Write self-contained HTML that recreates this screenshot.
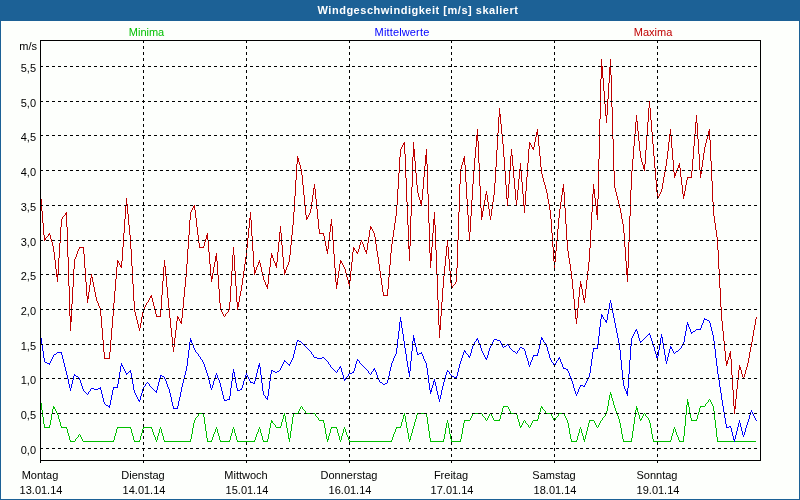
<!DOCTYPE html>
<html><head><meta charset="utf-8"><title>Windgeschwindigkeit</title>
<style>
html,body{margin:0;padding:0;}
body{width:800px;height:500px;overflow:hidden;background:#fdfffc;font-family:"Liberation Sans",sans-serif;font-size:11px;color:#000;}
#wrap{position:relative;width:800px;height:500px;background:#fdfffc;overflow:hidden;}
#hdr{position:absolute;left:0;top:0;width:800px;height:21px;background:#1c6196;}
.bl{position:absolute;background:#1c6196;}
.t{position:absolute;white-space:nowrap;line-height:13px;height:13px;}
.c{transform:translateX(-50%);}
.r{text-align:right;}
#title{color:#fff;font-weight:bold;left:418px;top:4px;letter-spacing:0.52px;}
</style></head><body><div id="wrap">
<div id="hdr"></div>
<div class="bl" style="left:0;top:0;width:1px;height:500px"></div>
<div class="bl" style="left:799px;top:0;width:1px;height:500px"></div>
<div class="bl" style="left:0;top:499px;width:800px;height:1px"></div>

<svg width="800" height="500" viewBox="0 0 800 500" style="position:absolute;left:0;top:0">
<path d="M40 399h1v4h-1zM41 403h1v7h-1zM42 410h1v7h-1zM43 417h1v7h-1zM44 424h1v4h-1zM45 427h1v1h-1zM46 427h1v1h-1zM47 427h1v1h-1zM48 427h1v1h-1zM49 425h1v3h-1zM50 420h1v5h-1zM51 414h1v6h-1zM52 409h1v5h-1zM53 406h1v3h-1zM54 407h1v2h-1zM55 409h1v2h-1zM56 411h1v2h-1zM57 413h1v2h-1zM58 415h1v4h-1zM59 419h1v3h-1zM60 422h1v4h-1zM61 426h1v2h-1zM62 427h1v1h-1zM63 427h1v1h-1zM64 427h1v1h-1zM65 427h1v1h-1zM66 427h1v2h-1zM67 429h1v4h-1zM68 433h1v3h-1zM69 436h1v4h-1zM70 440h1v2h-1zM71 441h1v1h-1zM72 441h1v1h-1zM73 441h1v1h-1zM74 441h1v1h-1zM75 439h1v2h-1zM76 438h1v1h-1zM77 437h1v1h-1zM78 435h1v2h-1zM79 434h1v1h-1zM80 435h1v2h-1zM81 437h1v2h-1zM82 439h1v2h-1zM83 441h1v1h-1zM84 441h1v1h-1zM85 441h1v1h-1zM86 441h1v1h-1zM87 441h1v1h-1zM88 441h1v1h-1zM89 441h1v1h-1zM90 441h1v1h-1zM91 441h1v1h-1zM92 441h1v1h-1zM93 441h1v1h-1zM94 441h1v1h-1zM95 441h1v1h-1zM96 441h1v1h-1zM97 441h1v1h-1zM98 441h1v1h-1zM99 441h1v1h-1zM100 441h1v1h-1zM101 441h1v1h-1zM102 441h1v1h-1zM103 441h1v1h-1zM104 441h1v1h-1zM105 441h1v1h-1zM106 441h1v1h-1zM107 441h1v1h-1zM108 441h1v1h-1zM109 441h1v1h-1zM110 441h1v1h-1zM111 441h1v1h-1zM112 441h1v1h-1zM113 440h1v2h-1zM114 436h1v4h-1zM115 433h1v3h-1zM116 429h1v4h-1zM117 427h1v2h-1zM118 427h1v1h-1zM119 427h1v1h-1zM120 427h1v1h-1zM121 427h1v1h-1zM122 427h1v1h-1zM123 427h1v1h-1zM124 427h1v1h-1zM125 427h1v1h-1zM126 427h1v1h-1zM127 427h1v1h-1zM128 427h1v1h-1zM129 427h1v1h-1zM130 427h1v2h-1zM131 429h1v4h-1zM132 433h1v3h-1zM133 436h1v4h-1zM134 440h1v2h-1zM135 441h1v1h-1zM136 441h1v1h-1zM137 441h1v1h-1zM138 441h1v1h-1zM139 440h1v2h-1zM140 436h1v4h-1zM141 433h1v3h-1zM142 429h1v4h-1zM143 427h1v2h-1zM144 427h1v1h-1zM145 427h1v1h-1zM146 427h1v1h-1zM147 427h1v1h-1zM148 427h1v1h-1zM149 427h1v1h-1zM150 427h1v1h-1zM151 427h1v2h-1zM152 429h1v3h-1zM153 432h1v3h-1zM154 435h1v2h-1zM155 437h1v3h-1zM156 440h1v2h-1zM157 436h1v4h-1zM158 433h1v3h-1zM159 429h1v4h-1zM160 427h1v2h-1zM161 429h1v4h-1zM162 433h1v3h-1zM163 436h1v4h-1zM164 440h1v2h-1zM165 441h1v1h-1zM166 441h1v1h-1zM167 441h1v1h-1zM168 441h1v1h-1zM169 441h1v1h-1zM170 441h1v1h-1zM171 441h1v1h-1zM172 441h1v1h-1zM173 441h1v1h-1zM174 441h1v1h-1zM175 441h1v1h-1zM176 441h1v1h-1zM177 441h1v1h-1zM178 441h1v1h-1zM179 441h1v1h-1zM180 441h1v1h-1zM181 441h1v1h-1zM182 441h1v1h-1zM183 441h1v1h-1zM184 441h1v1h-1zM185 441h1v1h-1zM186 441h1v1h-1zM187 441h1v1h-1zM188 441h1v1h-1zM189 441h1v1h-1zM190 439h1v3h-1zM191 434h1v5h-1zM192 428h1v6h-1zM193 423h1v5h-1zM194 420h1v3h-1zM195 418h1v2h-1zM196 417h1v1h-1zM197 416h1v1h-1zM198 414h1v2h-1zM199 413h1v1h-1zM200 413h1v1h-1zM201 413h1v1h-1zM202 413h1v1h-1zM203 413h1v4h-1zM204 417h1v7h-1zM205 424h1v7h-1zM206 431h1v7h-1zM207 438h1v4h-1zM208 441h1v1h-1zM209 441h1v1h-1zM210 441h1v1h-1zM211 440h1v2h-1zM212 437h1v3h-1zM213 434h1v3h-1zM214 432h1v2h-1zM215 429h1v3h-1zM216 427h1v2h-1zM217 429h1v4h-1zM218 433h1v3h-1zM219 436h1v4h-1zM220 440h1v2h-1zM221 441h1v1h-1zM222 441h1v1h-1zM223 441h1v1h-1zM224 441h1v1h-1zM225 441h1v1h-1zM226 441h1v1h-1zM227 441h1v1h-1zM228 441h1v1h-1zM229 440h1v2h-1zM230 436h1v4h-1zM231 433h1v3h-1zM232 429h1v4h-1zM233 427h1v2h-1zM234 429h1v4h-1zM235 433h1v3h-1zM236 436h1v4h-1zM237 440h1v2h-1zM238 441h1v1h-1zM239 441h1v1h-1zM240 441h1v1h-1zM241 441h1v1h-1zM242 441h1v1h-1zM243 441h1v1h-1zM244 441h1v1h-1zM245 441h1v1h-1zM246 441h1v1h-1zM247 441h1v1h-1zM248 441h1v1h-1zM249 441h1v1h-1zM250 441h1v1h-1zM251 441h1v1h-1zM252 441h1v1h-1zM253 441h1v1h-1zM254 440h1v2h-1zM255 437h1v3h-1zM256 434h1v3h-1zM257 432h1v2h-1zM258 429h1v3h-1zM259 427h1v2h-1zM260 429h1v4h-1zM261 433h1v3h-1zM262 436h1v4h-1zM263 440h1v2h-1zM264 441h1v1h-1zM265 441h1v1h-1zM266 441h1v1h-1zM267 439h1v3h-1zM268 434h1v5h-1zM269 428h1v6h-1zM270 423h1v5h-1zM271 420h1v3h-1zM272 421h1v2h-1zM273 423h1v1h-1zM274 424h1v1h-1zM275 425h1v2h-1zM276 427h1v1h-1zM277 427h1v1h-1zM278 427h1v1h-1zM279 427h1v1h-1zM280 426h1v2h-1zM281 422h1v4h-1zM282 419h1v3h-1zM283 415h1v4h-1zM284 413h1v3h-1zM285 416h1v6h-1zM286 422h1v6h-1zM287 428h1v5h-1zM288 433h1v6h-1zM289 438h1v4h-1zM290 431h1v7h-1zM291 424h1v7h-1zM292 417h1v7h-1zM293 413h1v4h-1zM294 413h1v1h-1zM295 413h1v1h-1zM296 413h1v1h-1zM297 413h1v1h-1zM298 411h1v2h-1zM299 409h1v2h-1zM300 407h1v2h-1zM301 406h1v1h-1zM302 407h1v2h-1zM303 409h1v1h-1zM304 410h1v1h-1zM305 411h1v2h-1zM306 413h1v1h-1zM307 413h1v1h-1zM308 413h1v1h-1zM309 413h1v1h-1zM310 413h1v1h-1zM311 413h1v1h-1zM312 413h1v1h-1zM313 413h1v1h-1zM314 413h1v1h-1zM315 414h1v2h-1zM316 416h1v1h-1zM317 417h1v1h-1zM318 418h1v2h-1zM319 420h1v1h-1zM320 420h1v1h-1zM321 420h1v1h-1zM322 420h1v1h-1zM323 420h1v3h-1zM324 423h1v5h-1zM325 428h1v6h-1zM326 434h1v5h-1zM327 439h1v3h-1zM328 436h1v4h-1zM329 433h1v3h-1zM330 429h1v4h-1zM331 427h1v2h-1zM332 427h1v1h-1zM333 427h1v1h-1zM334 427h1v1h-1zM335 427h1v1h-1zM336 427h1v2h-1zM337 429h1v4h-1zM338 433h1v3h-1zM339 436h1v4h-1zM340 440h1v2h-1zM341 436h1v4h-1zM342 433h1v3h-1zM343 429h1v4h-1zM344 427h1v2h-1zM345 429h1v3h-1zM346 432h1v3h-1zM347 435h1v2h-1zM348 437h1v3h-1zM349 440h1v2h-1zM350 441h1v1h-1zM351 441h1v1h-1zM352 441h1v1h-1zM353 441h1v1h-1zM354 441h1v1h-1zM355 441h1v1h-1zM356 441h1v1h-1zM357 441h1v1h-1zM358 441h1v1h-1zM359 441h1v1h-1zM360 441h1v1h-1zM361 441h1v1h-1zM362 441h1v1h-1zM363 441h1v1h-1zM364 441h1v1h-1zM365 441h1v1h-1zM366 441h1v1h-1zM367 441h1v1h-1zM368 441h1v1h-1zM369 441h1v1h-1zM370 441h1v1h-1zM371 441h1v1h-1zM372 441h1v1h-1zM373 441h1v1h-1zM374 441h1v1h-1zM375 441h1v1h-1zM376 441h1v1h-1zM377 441h1v1h-1zM378 441h1v1h-1zM379 441h1v1h-1zM380 441h1v1h-1zM381 441h1v1h-1zM382 441h1v1h-1zM383 441h1v1h-1zM384 441h1v1h-1zM385 441h1v1h-1zM386 441h1v1h-1zM387 441h1v1h-1zM388 441h1v1h-1zM389 441h1v1h-1zM390 441h1v1h-1zM391 440h1v2h-1zM392 437h1v3h-1zM393 434h1v3h-1zM394 432h1v2h-1zM395 429h1v3h-1zM396 427h1v2h-1zM397 427h1v1h-1zM398 427h1v1h-1zM399 427h1v1h-1zM400 426h1v2h-1zM401 422h1v4h-1zM402 419h1v3h-1zM403 415h1v4h-1zM404 413h1v3h-1zM405 416h1v6h-1zM406 422h1v6h-1zM407 428h1v5h-1zM408 433h1v6h-1zM409 439h1v3h-1zM410 436h1v4h-1zM411 433h1v3h-1zM412 429h1v4h-1zM413 426h1v3h-1zM414 422h1v4h-1zM415 419h1v3h-1zM416 415h1v4h-1zM417 413h1v2h-1zM418 413h1v1h-1zM419 413h1v1h-1zM420 413h1v1h-1zM421 413h1v1h-1zM422 413h1v1h-1zM423 413h1v1h-1zM424 413h1v1h-1zM425 413h1v1h-1zM426 413h1v4h-1zM427 417h1v7h-1zM428 424h1v7h-1zM429 431h1v7h-1zM430 438h1v4h-1zM431 441h1v1h-1zM432 441h1v1h-1zM433 441h1v1h-1zM434 441h1v1h-1zM435 441h1v1h-1zM436 441h1v1h-1zM437 441h1v1h-1zM438 441h1v1h-1zM439 441h1v1h-1zM440 441h1v1h-1zM441 441h1v1h-1zM442 441h1v1h-1zM443 439h1v3h-1zM444 434h1v5h-1zM445 428h1v6h-1zM446 423h1v5h-1zM447 420h1v3h-1zM448 423h1v5h-1zM449 428h1v6h-1zM450 434h1v5h-1zM451 439h1v3h-1zM452 441h1v1h-1zM453 441h1v1h-1zM454 441h1v1h-1zM455 441h1v1h-1zM456 441h1v1h-1zM457 441h1v1h-1zM458 441h1v1h-1zM459 441h1v1h-1zM460 439h1v3h-1zM461 434h1v5h-1zM462 428h1v6h-1zM463 423h1v5h-1zM464 420h1v3h-1zM465 420h1v1h-1zM466 420h1v1h-1zM467 420h1v1h-1zM468 420h1v1h-1zM469 420h1v1h-1zM470 418h1v2h-1zM471 416h1v2h-1zM472 414h1v2h-1zM473 413h1v1h-1zM474 413h1v1h-1zM475 413h1v1h-1zM476 413h1v1h-1zM477 413h1v1h-1zM478 413h1v1h-1zM479 413h1v1h-1zM480 413h1v1h-1zM481 413h1v1h-1zM482 414h1v2h-1zM483 416h1v1h-1zM484 417h1v1h-1zM485 418h1v2h-1zM486 420h1v1h-1zM487 418h1v2h-1zM488 416h1v2h-1zM489 414h1v2h-1zM490 413h1v1h-1zM491 414h1v2h-1zM492 416h1v2h-1zM493 418h1v2h-1zM494 420h1v1h-1zM495 420h1v1h-1zM496 420h1v1h-1zM497 420h1v1h-1zM498 420h1v1h-1zM499 419h1v2h-1zM500 415h1v4h-1zM501 412h1v3h-1zM502 408h1v4h-1zM503 406h1v2h-1zM504 406h1v1h-1zM505 406h1v1h-1zM506 406h1v1h-1zM507 406h1v1h-1zM508 407h1v2h-1zM509 409h1v2h-1zM510 411h1v2h-1zM511 413h1v1h-1zM512 413h1v1h-1zM513 413h1v1h-1zM514 413h1v1h-1zM515 413h1v1h-1zM516 413h1v2h-1zM517 415h1v4h-1zM518 419h1v3h-1zM519 422h1v4h-1zM520 426h1v2h-1zM521 425h1v2h-1zM522 423h1v2h-1zM523 421h1v2h-1zM524 420h1v1h-1zM525 421h1v2h-1zM526 423h1v1h-1zM527 424h1v1h-1zM528 425h1v2h-1zM529 427h1v1h-1zM530 425h1v2h-1zM531 423h1v2h-1zM532 421h1v2h-1zM533 420h1v1h-1zM534 420h1v1h-1zM535 420h1v1h-1zM536 420h1v1h-1zM537 419h1v2h-1zM538 415h1v4h-1zM539 412h1v3h-1zM540 408h1v4h-1zM541 406h1v2h-1zM542 407h1v2h-1zM543 409h1v1h-1zM544 410h1v1h-1zM545 411h1v2h-1zM546 413h1v1h-1zM547 413h1v1h-1zM548 413h1v1h-1zM549 413h1v1h-1zM550 413h1v1h-1zM551 414h1v2h-1zM552 416h1v2h-1zM553 418h1v2h-1zM554 420h1v1h-1zM555 418h1v2h-1zM556 417h1v1h-1zM557 416h1v1h-1zM558 414h1v2h-1zM559 413h1v1h-1zM560 413h1v1h-1zM561 413h1v1h-1zM562 413h1v1h-1zM563 413h1v1h-1zM564 414h1v2h-1zM565 416h1v2h-1zM566 418h1v2h-1zM567 420h1v3h-1zM568 423h1v5h-1zM569 428h1v6h-1zM570 434h1v5h-1zM571 439h1v3h-1zM572 441h1v1h-1zM573 441h1v1h-1zM574 441h1v1h-1zM575 441h1v1h-1zM576 440h1v2h-1zM577 436h1v4h-1zM578 433h1v3h-1zM579 429h1v4h-1zM580 427h1v2h-1zM581 429h1v4h-1zM582 433h1v3h-1zM583 436h1v4h-1zM584 439h1v3h-1zM585 435h1v4h-1zM586 431h1v4h-1zM587 427h1v4h-1zM588 423h1v4h-1zM589 420h1v3h-1zM590 420h1v1h-1zM591 420h1v1h-1zM592 420h1v1h-1zM593 420h1v1h-1zM594 421h1v2h-1zM595 423h1v2h-1zM596 425h1v2h-1zM597 427h1v1h-1zM598 425h1v2h-1zM599 423h1v2h-1zM600 421h1v2h-1zM601 420h1v1h-1zM602 418h1v2h-1zM603 417h1v1h-1zM604 416h1v1h-1zM605 414h1v2h-1zM606 411h1v3h-1zM607 406h1v5h-1zM608 400h1v6h-1zM609 395h1v5h-1zM610 392h1v3h-1zM611 394h1v4h-1zM612 398h1v3h-1zM613 401h1v4h-1zM614 405h1v3h-1zM615 408h1v3h-1zM616 411h1v3h-1zM617 414h1v2h-1zM618 416h1v3h-1zM619 419h1v4h-1zM620 423h1v5h-1zM621 428h1v6h-1zM622 434h1v5h-1zM623 439h1v3h-1zM624 441h1v1h-1zM625 441h1v1h-1zM626 441h1v1h-1zM627 441h1v1h-1zM628 441h1v1h-1zM629 441h1v1h-1zM630 441h1v1h-1zM631 438h1v4h-1zM632 431h1v7h-1zM633 424h1v7h-1zM634 417h1v7h-1zM635 410h1v7h-1zM636 406h1v4h-1zM637 408h1v4h-1zM638 412h1v3h-1zM639 415h1v4h-1zM640 419h1v2h-1zM641 418h1v2h-1zM642 416h1v2h-1zM643 414h1v2h-1zM644 413h1v1h-1zM645 414h1v2h-1zM646 416h1v1h-1zM647 417h1v1h-1zM648 418h1v2h-1zM649 420h1v3h-1zM650 423h1v5h-1zM651 428h1v6h-1zM652 434h1v5h-1zM653 439h1v3h-1zM654 441h1v1h-1zM655 441h1v1h-1zM656 441h1v1h-1zM657 441h1v1h-1zM658 441h1v1h-1zM659 441h1v1h-1zM660 441h1v1h-1zM661 441h1v1h-1zM662 441h1v1h-1zM663 441h1v1h-1zM664 441h1v1h-1zM665 441h1v1h-1zM666 441h1v1h-1zM667 441h1v1h-1zM668 441h1v1h-1zM669 441h1v1h-1zM670 440h1v2h-1zM671 436h1v4h-1zM672 433h1v3h-1zM673 429h1v4h-1zM674 427h1v2h-1zM675 429h1v3h-1zM676 432h1v3h-1zM677 435h1v2h-1zM678 437h1v3h-1zM679 440h1v2h-1zM680 441h1v1h-1zM681 441h1v1h-1zM682 441h1v1h-1zM683 436h1v6h-1zM684 426h1v10h-1zM685 415h1v11h-1zM686 405h1v10h-1zM687 399h1v6h-1zM688 402h1v5h-1zM689 407h1v6h-1zM690 413h1v5h-1zM691 418h1v3h-1zM692 420h1v1h-1zM693 420h1v1h-1zM694 420h1v1h-1zM695 420h1v1h-1zM696 419h1v2h-1zM697 415h1v4h-1zM698 412h1v3h-1zM699 408h1v4h-1zM700 406h1v2h-1zM701 406h1v1h-1zM702 406h1v1h-1zM703 406h1v1h-1zM704 406h1v1h-1zM705 404h1v2h-1zM706 403h1v1h-1zM707 402h1v1h-1zM708 400h1v2h-1zM709 399h1v1h-1zM710 400h1v2h-1zM711 402h1v2h-1zM712 404h1v2h-1zM713 406h1v5h-1zM714 411h1v9h-1zM715 420h1v8h-1zM716 428h1v9h-1zM717 437h1v5h-1zM718 441h1v1h-1zM719 441h1v1h-1zM720 441h1v1h-1zM721 441h1v1h-1zM722 441h1v1h-1zM723 441h1v1h-1zM724 441h1v1h-1zM725 441h1v1h-1zM726 441h1v1h-1zM727 441h1v1h-1zM728 441h1v1h-1zM729 441h1v1h-1zM730 441h1v1h-1zM731 441h1v1h-1zM732 441h1v1h-1zM733 441h1v1h-1zM734 441h1v1h-1zM735 441h1v1h-1zM736 441h1v1h-1zM737 441h1v1h-1zM738 441h1v1h-1zM739 441h1v1h-1zM740 441h1v1h-1zM741 441h1v1h-1zM742 441h1v1h-1zM743 441h1v1h-1zM744 441h1v1h-1zM745 441h1v1h-1zM746 441h1v1h-1zM747 441h1v1h-1zM748 441h1v1h-1zM749 441h1v1h-1zM750 441h1v1h-1zM751 441h1v1h-1zM752 441h1v1h-1zM753 441h1v1h-1zM754 441h1v1h-1zM755 441h1v1h-1z" fill="#00c000" shape-rendering="crispEdges"/>
<path d="M40 334h1v4h-1zM41 338h1v7h-1zM42 345h1v6h-1zM43 351h1v7h-1zM44 358h1v4h-1zM45 362h1v1h-1zM46 362h1v1h-1zM47 363h1v1h-1zM48 363h1v1h-1zM49 363h1v2h-1zM50 361h1v2h-1zM51 359h1v2h-1zM52 357h1v2h-1zM53 355h1v2h-1zM54 354h1v1h-1zM55 354h1v1h-1zM56 353h1v1h-1zM57 352h1v1h-1zM58 352h1v1h-1zM59 352h1v1h-1zM60 352h1v1h-1zM61 352h1v3h-1zM62 355h1v4h-1zM63 359h1v4h-1zM64 363h1v4h-1zM65 367h1v4h-1zM66 371h1v4h-1zM67 375h1v4h-1zM68 379h1v5h-1zM69 384h1v4h-1zM70 388h1v3h-1zM71 384h1v4h-1zM72 380h1v4h-1zM73 376h1v4h-1zM74 374h1v2h-1zM75 375h1v1h-1zM76 376h1v1h-1zM77 376h1v1h-1zM78 377h1v1h-1zM79 378h1v2h-1zM80 380h1v3h-1zM81 383h1v3h-1zM82 386h1v3h-1zM83 389h1v2h-1zM84 391h1v1h-1zM85 392h1v1h-1zM86 393h1v1h-1zM87 394h1v1h-1zM88 392h1v2h-1zM89 391h1v1h-1zM90 389h1v2h-1zM91 388h1v1h-1zM92 388h1v1h-1zM93 388h1v1h-1zM94 389h1v1h-1zM95 389h1v1h-1zM96 389h1v1h-1zM97 389h1v1h-1zM98 388h1v1h-1zM99 388h1v1h-1zM100 387h1v3h-1zM101 390h1v4h-1zM102 394h1v4h-1zM103 398h1v4h-1zM104 402h1v2h-1zM105 404h1v1h-1zM106 405h1v1h-1zM107 405h1v1h-1zM108 406h1v1h-1zM109 405h1v3h-1zM110 400h1v5h-1zM111 395h1v5h-1zM112 390h1v5h-1zM113 387h1v3h-1zM114 387h1v1h-1zM115 387h1v1h-1zM116 387h1v1h-1zM117 384h1v4h-1zM118 378h1v6h-1zM119 372h1v6h-1zM120 366h1v6h-1zM121 363h1v3h-1zM122 365h1v2h-1zM123 367h1v2h-1zM124 369h1v2h-1zM125 371h1v2h-1zM126 373h1v2h-1zM127 373h1v1h-1zM128 372h1v1h-1zM129 371h1v1h-1zM130 370h1v3h-1zM131 373h1v6h-1zM132 379h1v5h-1zM133 384h1v6h-1zM134 390h1v3h-1zM135 393h1v2h-1zM136 395h1v2h-1zM137 397h1v2h-1zM138 399h1v2h-1zM139 400h1v2h-1zM140 396h1v4h-1zM141 393h1v3h-1zM142 389h1v4h-1zM143 387h1v2h-1zM144 386h1v1h-1zM145 384h1v2h-1zM146 383h1v1h-1zM147 382h1v1h-1zM148 383h1v1h-1zM149 384h1v2h-1zM150 386h1v1h-1zM151 387h1v1h-1zM152 388h1v1h-1zM153 389h1v1h-1zM154 390h1v1h-1zM155 391h1v1h-1zM156 390h1v3h-1zM157 386h1v4h-1zM158 382h1v4h-1zM159 378h1v4h-1zM160 375h1v3h-1zM161 375h1v1h-1zM162 376h1v1h-1zM163 376h1v1h-1zM164 377h1v2h-1zM165 379h1v2h-1zM166 381h1v3h-1zM167 384h1v3h-1zM168 387h1v2h-1zM169 389h1v4h-1zM170 393h1v4h-1zM171 397h1v5h-1zM172 402h1v4h-1zM173 406h1v3h-1zM174 408h1v1h-1zM175 408h1v1h-1zM176 408h1v1h-1zM177 406h1v3h-1zM178 401h1v5h-1zM179 397h1v4h-1zM180 392h1v5h-1zM181 387h1v5h-1zM182 383h1v4h-1zM183 379h1v4h-1zM184 375h1v4h-1zM185 371h1v4h-1zM186 366h1v5h-1zM187 358h1v8h-1zM188 350h1v8h-1zM189 342h1v8h-1zM190 338h1v4h-1zM191 340h1v3h-1zM192 343h1v2h-1zM193 345h1v3h-1zM194 348h1v2h-1zM195 350h1v2h-1zM196 352h1v1h-1zM197 353h1v1h-1zM198 354h1v2h-1zM199 356h1v1h-1zM200 357h1v2h-1zM201 359h1v1h-1zM202 360h1v2h-1zM203 362h1v2h-1zM204 364h1v3h-1zM205 367h1v3h-1zM206 370h1v3h-1zM207 373h1v3h-1zM208 376h1v4h-1zM209 380h1v4h-1zM210 384h1v4h-1zM211 388h1v2h-1zM212 385h1v3h-1zM213 381h1v4h-1zM214 378h1v3h-1zM215 375h1v3h-1zM216 373h1v2h-1zM217 375h1v3h-1zM218 378h1v2h-1zM219 380h1v3h-1zM220 383h1v4h-1zM221 387h1v4h-1zM222 391h1v4h-1zM223 395h1v4h-1zM224 399h1v2h-1zM225 400h1v1h-1zM226 400h1v1h-1zM227 399h1v1h-1zM228 399h1v1h-1zM229 396h1v4h-1zM230 388h1v8h-1zM231 381h1v7h-1zM232 373h1v8h-1zM233 369h1v4h-1zM234 372h1v5h-1zM235 377h1v6h-1zM236 383h1v5h-1zM237 388h1v3h-1zM238 390h1v1h-1zM239 390h1v1h-1zM240 389h1v1h-1zM241 388h1v2h-1zM242 385h1v3h-1zM243 381h1v4h-1zM244 378h1v3h-1zM245 375h1v3h-1zM246 373h1v2h-1zM247 375h1v2h-1zM248 377h1v2h-1zM249 379h1v2h-1zM250 381h1v2h-1zM251 382h1v1h-1zM252 382h1v1h-1zM253 383h1v1h-1zM254 381h1v3h-1zM255 377h1v4h-1zM256 373h1v4h-1zM257 369h1v4h-1zM258 365h1v4h-1zM259 363h1v4h-1zM260 367h1v8h-1zM261 375h1v8h-1zM262 383h1v8h-1zM263 391h1v4h-1zM264 395h1v1h-1zM265 396h1v2h-1zM266 398h1v1h-1zM267 396h1v4h-1zM268 389h1v7h-1zM269 381h1v8h-1zM270 374h1v7h-1zM271 370h1v4h-1zM272 370h1v1h-1zM273 371h1v1h-1zM274 371h1v1h-1zM275 372h1v1h-1zM276 372h1v1h-1zM277 371h1v1h-1zM278 371h1v1h-1zM279 370h1v1h-1zM280 368h1v2h-1zM281 366h1v2h-1zM282 364h1v2h-1zM283 362h1v2h-1zM284 360h1v2h-1zM285 361h1v1h-1zM286 362h1v1h-1zM287 363h1v1h-1zM288 364h1v1h-1zM289 364h1v2h-1zM290 362h1v2h-1zM291 360h1v2h-1zM292 358h1v2h-1zM293 354h1v4h-1zM294 350h1v4h-1zM295 346h1v4h-1zM296 342h1v4h-1zM297 340h1v2h-1zM298 340h1v1h-1zM299 341h1v1h-1zM300 341h1v1h-1zM301 342h1v1h-1zM302 343h1v1h-1zM303 344h1v1h-1zM304 345h1v1h-1zM305 346h1v1h-1zM306 347h1v1h-1zM307 348h1v1h-1zM308 349h1v1h-1zM309 350h1v1h-1zM310 351h1v1h-1zM311 352h1v2h-1zM312 354h1v1h-1zM313 355h1v2h-1zM314 357h1v1h-1zM315 357h1v1h-1zM316 357h1v1h-1zM317 358h1v1h-1zM318 358h1v1h-1zM319 358h1v1h-1zM320 358h1v1h-1zM321 358h1v1h-1zM322 357h1v1h-1zM323 357h1v1h-1zM324 358h1v1h-1zM325 359h1v1h-1zM326 360h1v1h-1zM327 361h1v1h-1zM328 362h1v2h-1zM329 364h1v1h-1zM330 365h1v2h-1zM331 367h1v1h-1zM332 368h1v1h-1zM333 369h1v1h-1zM334 370h1v1h-1zM335 371h1v1h-1zM336 372h1v1h-1zM337 370h1v2h-1zM338 369h1v1h-1zM339 367h1v2h-1zM340 366h1v2h-1zM341 368h1v4h-1zM342 372h1v3h-1zM343 375h1v4h-1zM344 379h1v2h-1zM345 378h1v2h-1zM346 377h1v1h-1zM347 376h1v1h-1zM348 374h1v2h-1zM349 373h1v1h-1zM350 373h1v1h-1zM351 373h1v1h-1zM352 372h1v1h-1zM353 371h1v2h-1zM354 368h1v3h-1zM355 364h1v4h-1zM356 361h1v3h-1zM357 359h1v2h-1zM358 360h1v1h-1zM359 361h1v2h-1zM360 363h1v1h-1zM361 364h1v1h-1zM362 365h1v1h-1zM363 366h1v1h-1zM364 367h1v1h-1zM365 368h1v1h-1zM366 369h1v1h-1zM367 370h1v1h-1zM368 371h1v2h-1zM369 373h1v1h-1zM370 374h1v1h-1zM371 372h1v2h-1zM372 371h1v1h-1zM373 369h1v2h-1zM374 368h1v2h-1zM375 370h1v2h-1zM376 372h1v3h-1zM377 375h1v3h-1zM378 378h1v2h-1zM379 380h1v2h-1zM380 382h1v1h-1zM381 382h1v1h-1zM382 383h1v1h-1zM383 384h1v1h-1zM384 384h1v1h-1zM385 383h1v1h-1zM386 383h1v1h-1zM387 380h1v3h-1zM388 376h1v4h-1zM389 371h1v5h-1zM390 367h1v4h-1zM391 363h1v4h-1zM392 361h1v2h-1zM393 358h1v3h-1zM394 356h1v2h-1zM395 354h1v2h-1zM396 348h1v6h-1zM397 339h1v9h-1zM398 331h1v8h-1zM399 322h1v9h-1zM400 317h1v5h-1zM401 321h1v7h-1zM402 328h1v6h-1zM403 334h1v7h-1zM404 341h1v7h-1zM405 348h1v6h-1zM406 354h1v7h-1zM407 361h1v6h-1zM408 367h1v6h-1zM409 371h1v6h-1zM410 361h1v10h-1zM411 351h1v10h-1zM412 341h1v10h-1zM413 335h1v6h-1zM414 338h1v5h-1zM415 343h1v4h-1zM416 347h1v5h-1zM417 352h1v3h-1zM418 354h1v1h-1zM419 353h1v1h-1zM420 353h1v1h-1zM421 352h1v2h-1zM422 354h1v2h-1zM423 356h1v3h-1zM424 359h1v2h-1zM425 361h1v2h-1zM426 363h1v5h-1zM427 368h1v7h-1zM428 375h1v8h-1zM429 383h1v7h-1zM430 390h1v4h-1zM431 388h1v4h-1zM432 385h1v3h-1zM433 381h1v4h-1zM434 379h1v3h-1zM435 382h1v4h-1zM436 386h1v5h-1zM437 391h1v4h-1zM438 395h1v4h-1zM439 399h1v3h-1zM440 395h1v4h-1zM441 390h1v5h-1zM442 386h1v4h-1zM443 382h1v4h-1zM444 379h1v3h-1zM445 375h1v4h-1zM446 372h1v3h-1zM447 370h1v2h-1zM448 371h1v1h-1zM449 372h1v2h-1zM450 374h1v1h-1zM451 375h1v1h-1zM452 376h1v1h-1zM453 376h1v1h-1zM454 377h1v1h-1zM455 377h1v1h-1zM456 376h1v3h-1zM457 372h1v4h-1zM458 368h1v4h-1zM459 364h1v4h-1zM460 361h1v3h-1zM461 358h1v3h-1zM462 355h1v3h-1zM463 352h1v3h-1zM464 350h1v2h-1zM465 351h1v2h-1zM466 353h1v1h-1zM467 354h1v1h-1zM468 355h1v2h-1zM469 356h1v2h-1zM470 353h1v3h-1zM471 349h1v4h-1zM472 346h1v3h-1zM473 344h1v2h-1zM474 342h1v2h-1zM475 341h1v1h-1zM476 339h1v2h-1zM477 338h1v2h-1zM478 340h1v3h-1zM479 343h1v2h-1zM480 345h1v3h-1zM481 348h1v3h-1zM482 351h1v2h-1zM483 353h1v2h-1zM484 355h1v2h-1zM485 357h1v2h-1zM486 358h1v2h-1zM487 355h1v3h-1zM488 351h1v4h-1zM489 348h1v3h-1zM490 346h1v2h-1zM491 344h1v2h-1zM492 342h1v2h-1zM493 340h1v2h-1zM494 339h1v1h-1zM495 339h1v1h-1zM496 339h1v1h-1zM497 340h1v1h-1zM498 340h1v1h-1zM499 340h1v1h-1zM500 341h1v2h-1zM501 343h1v2h-1zM502 345h1v2h-1zM503 347h1v1h-1zM504 346h1v1h-1zM505 346h1v1h-1zM506 345h1v1h-1zM507 344h1v1h-1zM508 345h1v1h-1zM509 346h1v2h-1zM510 348h1v1h-1zM511 349h1v1h-1zM512 350h1v1h-1zM513 351h1v1h-1zM514 351h1v1h-1zM515 352h1v1h-1zM516 353h1v1h-1zM517 351h1v2h-1zM518 350h1v1h-1zM519 348h1v2h-1zM520 347h1v1h-1zM521 347h1v1h-1zM522 348h1v1h-1zM523 348h1v1h-1zM524 349h1v2h-1zM525 351h1v4h-1zM526 355h1v3h-1zM527 358h1v3h-1zM528 361h1v4h-1zM529 365h1v2h-1zM530 362h1v3h-1zM531 360h1v2h-1zM532 357h1v3h-1zM533 355h1v2h-1zM534 355h1v1h-1zM535 355h1v1h-1zM536 355h1v1h-1zM537 353h1v3h-1zM538 349h1v4h-1zM539 344h1v5h-1zM540 340h1v4h-1zM541 337h1v3h-1zM542 338h1v2h-1zM543 340h1v2h-1zM544 342h1v1h-1zM545 343h1v2h-1zM546 345h1v2h-1zM547 347h1v4h-1zM548 351h1v3h-1zM549 354h1v4h-1zM550 358h1v2h-1zM551 360h1v2h-1zM552 362h1v1h-1zM553 363h1v2h-1zM554 365h1v1h-1zM555 363h1v2h-1zM556 361h1v2h-1zM557 360h1v1h-1zM558 358h1v2h-1zM559 357h1v2h-1zM560 359h1v3h-1zM561 362h1v2h-1zM562 364h1v3h-1zM563 367h1v2h-1zM564 368h1v1h-1zM565 368h1v1h-1zM566 369h1v1h-1zM567 369h1v2h-1zM568 371h1v2h-1zM569 373h1v3h-1zM570 376h1v2h-1zM571 378h1v3h-1zM572 381h1v3h-1zM573 384h1v4h-1zM574 388h1v3h-1zM575 391h1v3h-1zM576 394h1v2h-1zM577 392h1v2h-1zM578 389h1v3h-1zM579 387h1v2h-1zM580 385h1v2h-1zM581 385h1v1h-1zM582 385h1v1h-1zM583 386h1v1h-1zM584 385h1v2h-1zM585 383h1v2h-1zM586 381h1v2h-1zM587 379h1v2h-1zM588 377h1v2h-1zM589 373h1v4h-1zM590 366h1v7h-1zM591 359h1v7h-1zM592 352h1v7h-1zM593 348h1v4h-1zM594 348h1v1h-1zM595 348h1v1h-1zM596 348h1v1h-1zM597 344h1v5h-1zM598 336h1v8h-1zM599 327h1v9h-1zM600 319h1v8h-1zM601 314h1v5h-1zM602 315h1v2h-1zM603 317h1v2h-1zM604 319h1v1h-1zM605 320h1v2h-1zM606 320h1v3h-1zM607 314h1v6h-1zM608 309h1v5h-1zM609 303h1v6h-1zM610 300h1v3h-1zM611 303h1v5h-1zM612 308h1v5h-1zM613 313h1v5h-1zM614 318h1v5h-1zM615 323h1v5h-1zM616 328h1v5h-1zM617 333h1v5h-1zM618 338h1v5h-1zM619 343h1v7h-1zM620 350h1v10h-1zM621 360h1v10h-1zM622 370h1v10h-1zM623 380h1v6h-1zM624 386h1v3h-1zM625 389h1v2h-1zM626 391h1v3h-1zM627 388h1v8h-1zM628 374h1v14h-1zM629 360h1v14h-1zM630 346h1v14h-1zM631 338h1v8h-1zM632 336h1v2h-1zM633 334h1v2h-1zM634 332h1v2h-1zM635 330h1v2h-1zM636 329h1v2h-1zM637 331h1v3h-1zM638 334h1v4h-1zM639 338h1v3h-1zM640 341h1v2h-1zM641 341h1v1h-1zM642 340h1v1h-1zM643 339h1v1h-1zM644 338h1v1h-1zM645 337h1v1h-1zM646 336h1v1h-1zM647 335h1v1h-1zM648 334h1v1h-1zM649 333h1v2h-1zM650 335h1v3h-1zM651 338h1v3h-1zM652 341h1v3h-1zM653 344h1v3h-1zM654 347h1v4h-1zM655 351h1v3h-1zM656 354h1v4h-1zM657 356h1v4h-1zM658 350h1v6h-1zM659 344h1v6h-1zM660 338h1v6h-1zM661 334h1v4h-1zM662 337h1v6h-1zM663 343h1v6h-1zM664 349h1v6h-1zM665 355h1v6h-1zM666 361h1v3h-1zM667 357h1v4h-1zM668 353h1v4h-1zM669 349h1v4h-1zM670 346h1v3h-1zM671 347h1v2h-1zM672 349h1v2h-1zM673 351h1v2h-1zM674 353h1v1h-1zM675 352h1v1h-1zM676 351h1v1h-1zM677 351h1v1h-1zM678 350h1v1h-1zM679 349h1v1h-1zM680 348h1v1h-1zM681 346h1v2h-1zM682 345h1v1h-1zM683 342h1v3h-1zM684 336h1v6h-1zM685 331h1v5h-1zM686 325h1v6h-1zM687 322h1v3h-1zM688 324h1v3h-1zM689 327h1v2h-1zM690 329h1v3h-1zM691 332h1v2h-1zM692 332h1v1h-1zM693 331h1v1h-1zM694 331h1v1h-1zM695 330h1v1h-1zM696 329h1v1h-1zM697 329h1v1h-1zM698 329h1v1h-1zM699 329h1v1h-1zM700 328h1v2h-1zM701 325h1v3h-1zM702 323h1v2h-1zM703 320h1v3h-1zM704 318h1v2h-1zM705 319h1v1h-1zM706 319h1v1h-1zM707 320h1v1h-1zM708 320h1v1h-1zM709 321h1v2h-1zM710 323h1v4h-1zM711 327h1v4h-1zM712 331h1v4h-1zM713 335h1v6h-1zM714 341h1v8h-1zM715 349h1v9h-1zM716 358h1v8h-1zM717 366h1v8h-1zM718 374h1v6h-1zM719 380h1v7h-1zM720 387h1v6h-1zM721 393h1v7h-1zM722 400h1v6h-1zM723 406h1v6h-1zM724 412h1v6h-1zM725 418h1v6h-1zM726 424h1v4h-1zM727 427h1v1h-1zM728 427h1v1h-1zM729 426h1v1h-1zM730 426h1v2h-1zM731 428h1v4h-1zM732 432h1v4h-1zM733 436h1v4h-1zM734 439h1v3h-1zM735 435h1v4h-1zM736 431h1v4h-1zM737 427h1v4h-1zM738 423h1v4h-1zM739 420h1v3h-1zM740 423h1v4h-1zM741 427h1v4h-1zM742 431h1v4h-1zM743 435h1v2h-1zM744 432h1v3h-1zM745 428h1v4h-1zM746 425h1v3h-1zM747 422h1v3h-1zM748 419h1v3h-1zM749 415h1v4h-1zM750 412h1v3h-1zM751 410h1v2h-1zM752 412h1v2h-1zM753 414h1v2h-1zM754 416h1v2h-1zM755 418h1v2h-1zM756 420h1v1h-1z" fill="#0000ff" shape-rendering="crispEdges"/>
<path d="M40 192h1v7h-1zM41 199h1v12h-1zM42 211h1v12h-1zM43 223h1v12h-1zM44 235h1v6h-1zM45 238h1v2h-1zM46 237h1v1h-1zM47 236h1v1h-1zM48 234h1v2h-1zM49 233h1v2h-1zM50 235h1v4h-1zM51 239h1v3h-1zM52 242h1v4h-1zM53 246h1v6h-1zM54 252h1v8h-1zM55 260h1v9h-1zM56 269h1v8h-1zM57 274h1v8h-1zM58 258h1v16h-1zM59 243h1v15h-1zM60 227h1v16h-1zM61 219h1v8h-1zM62 217h1v2h-1zM63 216h1v1h-1zM64 215h1v1h-1zM65 213h1v2h-1zM66 212h1v15h-1zM67 227h1v30h-1zM68 257h1v29h-1zM69 286h1v30h-1zM70 316h1v15h-1zM71 304h1v18h-1zM72 287h1v17h-1zM73 269h1v18h-1zM74 259h1v10h-1zM75 257h1v2h-1zM76 254h1v3h-1zM77 251h1v3h-1zM78 249h1v2h-1zM79 247h1v2h-1zM80 247h1v1h-1zM81 247h1v1h-1zM82 247h1v1h-1zM83 247h1v7h-1zM84 254h1v14h-1zM85 268h1v14h-1zM86 282h1v14h-1zM87 296h1v7h-1zM88 292h1v7h-1zM89 285h1v7h-1zM90 278h1v7h-1zM91 274h1v4h-1zM92 277h1v5h-1zM93 282h1v5h-1zM94 287h1v5h-1zM95 292h1v5h-1zM96 297h1v4h-1zM97 301h1v2h-1zM98 303h1v3h-1zM99 306h1v2h-1zM100 308h1v8h-1zM101 316h1v12h-1zM102 328h1v12h-1zM103 340h1v12h-1zM104 352h1v7h-1zM105 358h1v1h-1zM106 358h1v1h-1zM107 358h1v1h-1zM108 358h1v1h-1zM109 352h1v7h-1zM110 340h1v12h-1zM111 328h1v12h-1zM112 316h1v12h-1zM113 303h1v13h-1zM114 291h1v12h-1zM115 279h1v12h-1zM116 267h1v12h-1zM117 260h1v7h-1zM118 261h1v2h-1zM119 263h1v2h-1zM120 265h1v2h-1zM121 261h1v7h-1zM122 247h1v14h-1zM123 233h1v14h-1zM124 219h1v14h-1zM125 205h1v14h-1zM126 198h1v7h-1zM127 204h1v10h-1zM128 214h1v11h-1zM129 225h1v10h-1zM130 235h1v14h-1zM131 249h1v17h-1zM132 266h1v18h-1zM133 284h1v17h-1zM134 301h1v11h-1zM135 312h1v4h-1zM136 316h1v4h-1zM137 320h1v4h-1zM138 324h1v4h-1zM139 328h1v3h-1zM140 323h1v5h-1zM141 317h1v6h-1zM142 312h1v5h-1zM143 309h1v3h-1zM144 307h1v2h-1zM145 305h1v2h-1zM146 303h1v2h-1zM147 302h1v1h-1zM148 300h1v2h-1zM149 298h1v2h-1zM150 296h1v2h-1zM151 295h1v3h-1zM152 298h1v4h-1zM153 302h1v4h-1zM154 306h1v4h-1zM155 310h1v4h-1zM156 314h1v3h-1zM157 316h1v1h-1zM158 316h1v1h-1zM159 316h1v1h-1zM160 309h1v8h-1zM161 295h1v14h-1zM162 281h1v14h-1zM163 267h1v14h-1zM164 260h1v7h-1zM165 266h1v10h-1zM166 276h1v11h-1zM167 287h1v11h-1zM168 298h1v10h-1zM169 308h1v10h-1zM170 318h1v10h-1zM171 328h1v9h-1zM172 337h1v10h-1zM173 347h1v5h-1zM174 338h1v9h-1zM175 330h1v8h-1zM176 321h1v9h-1zM177 316h1v5h-1zM178 317h1v2h-1zM179 319h1v2h-1zM180 321h1v2h-1zM181 318h1v6h-1zM182 308h1v10h-1zM183 297h1v11h-1zM184 287h1v10h-1zM185 277h1v10h-1zM186 264h1v13h-1zM187 249h1v15h-1zM188 235h1v14h-1zM189 220h1v15h-1zM190 212h1v8h-1zM191 210h1v2h-1zM192 208h1v2h-1zM193 206h1v2h-1zM194 205h1v5h-1zM195 210h1v8h-1zM196 218h1v9h-1zM197 227h1v8h-1zM198 235h1v8h-1zM199 243h1v5h-1zM200 247h1v1h-1zM201 247h1v1h-1zM202 247h1v1h-1zM203 246h1v2h-1zM204 242h1v4h-1zM205 239h1v3h-1zM206 235h1v4h-1zM207 233h1v7h-1zM208 240h1v12h-1zM209 252h1v12h-1zM210 264h1v12h-1zM211 276h1v6h-1zM212 273h1v6h-1zM213 267h1v6h-1zM214 262h1v5h-1zM215 256h1v6h-1zM216 253h1v8h-1zM217 261h1v14h-1zM218 275h1v14h-1zM219 289h1v14h-1zM220 303h1v7h-1zM221 310h1v2h-1zM222 312h1v2h-1zM223 314h1v2h-1zM224 316h1v1h-1zM225 314h1v2h-1zM226 313h1v1h-1zM227 312h1v1h-1zM228 310h1v2h-1zM229 302h1v8h-1zM230 286h1v16h-1zM231 271h1v15h-1zM232 255h1v16h-1zM233 247h1v8h-1zM234 255h1v16h-1zM235 271h1v15h-1zM236 286h1v16h-1zM237 302h1v8h-1zM238 302h1v5h-1zM239 296h1v6h-1zM240 291h1v5h-1zM241 285h1v6h-1zM242 278h1v7h-1zM243 271h1v7h-1zM244 264h1v7h-1zM245 257h1v7h-1zM246 248h1v9h-1zM247 238h1v10h-1zM248 228h1v10h-1zM249 218h1v10h-1zM250 212h1v8h-1zM251 220h1v16h-1zM252 236h1v15h-1zM253 251h1v16h-1zM254 267h1v8h-1zM255 270h1v3h-1zM256 267h1v3h-1zM257 265h1v2h-1zM258 262h1v3h-1zM259 260h1v3h-1zM260 263h1v4h-1zM261 267h1v5h-1zM262 272h1v4h-1zM263 276h1v4h-1zM264 280h1v2h-1zM265 282h1v3h-1zM266 285h1v2h-1zM267 284h1v5h-1zM268 275h1v9h-1zM269 267h1v8h-1zM270 258h1v9h-1zM271 253h1v5h-1zM272 255h1v3h-1zM273 258h1v3h-1zM274 261h1v2h-1zM275 263h1v3h-1zM276 262h1v6h-1zM277 252h1v10h-1zM278 242h1v10h-1zM279 232h1v10h-1zM280 226h1v7h-1zM281 233h1v12h-1zM282 245h1v12h-1zM283 257h1v12h-1zM284 269h1v6h-1zM285 270h1v3h-1zM286 267h1v3h-1zM287 265h1v2h-1zM288 262h1v3h-1zM289 255h1v7h-1zM290 245h1v10h-1zM291 235h1v10h-1zM292 225h1v10h-1zM293 212h1v13h-1zM294 196h1v16h-1zM295 180h1v16h-1zM296 164h1v16h-1zM297 156h1v8h-1zM298 158h1v4h-1zM299 162h1v3h-1zM300 165h1v4h-1zM301 169h1v6h-1zM302 175h1v10h-1zM303 185h1v10h-1zM304 195h1v10h-1zM305 205h1v10h-1zM306 215h1v5h-1zM307 217h1v2h-1zM308 215h1v2h-1zM309 213h1v2h-1zM310 209h1v4h-1zM311 202h1v7h-1zM312 195h1v7h-1zM313 188h1v7h-1zM314 184h1v5h-1zM315 189h1v10h-1zM316 199h1v10h-1zM317 209h1v10h-1zM318 219h1v10h-1zM319 229h1v5h-1zM320 233h1v1h-1zM321 233h1v1h-1zM322 233h1v1h-1zM323 233h1v3h-1zM324 236h1v5h-1zM325 241h1v5h-1zM326 246h1v5h-1zM327 249h1v5h-1zM328 241h1v8h-1zM329 232h1v9h-1zM330 224h1v8h-1zM331 219h1v7h-1zM332 226h1v14h-1zM333 240h1v14h-1zM334 254h1v14h-1zM335 268h1v14h-1zM336 282h1v7h-1zM337 278h1v7h-1zM338 271h1v7h-1zM339 264h1v7h-1zM340 260h1v4h-1zM341 261h1v2h-1zM342 263h1v2h-1zM343 265h1v2h-1zM344 267h1v2h-1zM345 269h1v4h-1zM346 273h1v4h-1zM347 277h1v3h-1zM348 280h1v4h-1zM349 281h1v5h-1zM350 271h1v10h-1zM351 262h1v9h-1zM352 252h1v10h-1zM353 247h1v5h-1zM354 248h1v2h-1zM355 250h1v1h-1zM356 251h1v2h-1zM357 252h1v2h-1zM358 249h1v3h-1zM359 245h1v4h-1zM360 242h1v3h-1zM361 240h1v2h-1zM362 242h1v2h-1zM363 244h1v3h-1zM364 247h1v3h-1zM365 250h1v2h-1zM366 250h1v4h-1zM367 243h1v7h-1zM368 237h1v6h-1zM369 230h1v7h-1zM370 226h1v4h-1zM371 227h1v2h-1zM372 229h1v2h-1zM373 231h1v2h-1zM374 233h1v4h-1zM375 237h1v7h-1zM376 244h1v7h-1zM377 251h1v6h-1zM378 257h1v7h-1zM379 264h1v7h-1zM380 271h1v7h-1zM381 278h1v7h-1zM382 285h1v7h-1zM383 292h1v4h-1zM384 295h1v1h-1zM385 295h1v1h-1zM386 295h1v1h-1zM387 289h1v7h-1zM388 277h1v12h-1zM389 265h1v12h-1zM390 253h1v12h-1zM391 244h1v9h-1zM392 237h1v7h-1zM393 230h1v7h-1zM394 223h1v7h-1zM395 216h1v7h-1zM396 205h1v11h-1zM397 189h1v16h-1zM398 173h1v16h-1zM399 157h1v16h-1zM400 149h1v8h-1zM401 147h1v2h-1zM402 145h1v2h-1zM403 143h1v2h-1zM404 142h1v12h-1zM405 154h1v24h-1zM406 178h1v24h-1zM407 202h1v23h-1zM408 225h1v24h-1zM409 246h1v15h-1zM410 216h1v30h-1zM411 187h1v29h-1zM412 157h1v30h-1zM413 142h1v15h-1zM414 149h1v12h-1zM415 161h1v12h-1zM416 173h1v12h-1zM417 185h1v8h-1zM418 193h1v4h-1zM419 197h1v3h-1zM420 200h1v4h-1zM421 200h1v6h-1zM422 189h1v11h-1zM423 177h1v12h-1zM424 166h1v11h-1zM425 155h1v11h-1zM426 149h1v15h-1zM427 164h1v30h-1zM428 194h1v29h-1zM429 223h1v30h-1zM430 253h1v15h-1zM431 247h1v14h-1zM432 233h1v14h-1zM433 219h1v14h-1zM434 212h1v13h-1zM435 225h1v25h-1zM436 250h1v25h-1zM437 275h1v25h-1zM438 300h1v25h-1zM439 325h1v13h-1zM440 316h1v14h-1zM441 302h1v14h-1zM442 288h1v14h-1zM443 276h1v12h-1zM444 266h1v10h-1zM445 256h1v10h-1zM446 246h1v10h-1zM447 240h1v7h-1zM448 247h1v12h-1zM449 259h1v12h-1zM450 271h1v12h-1zM451 283h1v6h-1zM452 286h1v2h-1zM453 285h1v1h-1zM454 284h1v1h-1zM455 282h1v2h-1zM456 268h1v14h-1zM457 240h1v28h-1zM458 212h1v28h-1zM459 184h1v28h-1zM460 169h1v15h-1zM461 165h1v4h-1zM462 162h1v3h-1zM463 158h1v4h-1zM464 156h1v9h-1zM465 165h1v17h-1zM466 182h1v17h-1zM467 199h1v16h-1zM468 215h1v17h-1zM469 232h1v9h-1zM470 216h1v16h-1zM471 200h1v16h-1zM472 184h1v16h-1zM473 170h1v14h-1zM474 158h1v12h-1zM475 147h1v11h-1zM476 135h1v12h-1zM477 129h1v12h-1zM478 141h1v22h-1zM479 163h1v23h-1zM480 186h1v22h-1zM481 208h1v12h-1zM482 211h1v6h-1zM483 205h1v6h-1zM484 200h1v5h-1zM485 194h1v6h-1zM486 191h1v4h-1zM487 195h1v7h-1zM488 202h1v7h-1zM489 209h1v7h-1zM490 216h1v4h-1zM491 209h1v7h-1zM492 202h1v7h-1zM493 195h1v7h-1zM494 183h1v12h-1zM495 167h1v16h-1zM496 150h1v17h-1zM497 133h1v17h-1zM498 117h1v16h-1zM499 108h1v9h-1zM500 114h1v10h-1zM501 124h1v10h-1zM502 134h1v10h-1zM503 144h1v13h-1zM504 157h1v14h-1zM505 171h1v14h-1zM506 185h1v14h-1zM507 198h1v8h-1zM508 184h1v14h-1zM509 170h1v14h-1zM510 156h1v14h-1zM511 149h1v7h-1zM512 155h1v11h-1zM513 166h1v12h-1zM514 178h1v11h-1zM515 189h1v11h-1zM516 200h1v6h-1zM517 190h1v10h-1zM518 179h1v11h-1zM519 169h1v10h-1zM520 163h1v7h-1zM521 170h1v12h-1zM522 182h1v12h-1zM523 194h1v12h-1zM524 205h1v8h-1zM525 191h1v14h-1zM526 177h1v14h-1zM527 163h1v14h-1zM528 149h1v14h-1zM529 142h1v7h-1zM530 143h1v2h-1zM531 145h1v2h-1zM532 147h1v2h-1zM533 147h1v3h-1zM534 142h1v5h-1zM535 137h1v5h-1zM536 132h1v5h-1zM537 129h1v6h-1zM538 135h1v11h-1zM539 146h1v10h-1zM540 156h1v11h-1zM541 167h1v7h-1zM542 174h1v4h-1zM543 178h1v4h-1zM544 182h1v3h-1zM545 185h1v4h-1zM546 189h1v4h-1zM547 193h1v6h-1zM548 199h1v5h-1zM549 204h1v6h-1zM550 210h1v9h-1zM551 219h1v14h-1zM552 233h1v14h-1zM553 247h1v14h-1zM554 261h1v7h-1zM555 251h1v11h-1zM556 240h1v11h-1zM557 229h1v11h-1zM558 218h1v11h-1zM559 209h1v9h-1zM560 202h1v7h-1zM561 195h1v7h-1zM562 188h1v7h-1zM563 184h1v8h-1zM564 192h1v16h-1zM565 208h1v16h-1zM566 224h1v16h-1zM567 240h1v11h-1zM568 251h1v7h-1zM569 258h1v6h-1zM570 264h1v7h-1zM571 271h1v8h-1zM572 279h1v10h-1zM573 289h1v10h-1zM574 299h1v10h-1zM575 309h1v10h-1zM576 318h1v6h-1zM577 308h1v10h-1zM578 297h1v11h-1zM579 287h1v10h-1zM580 281h1v6h-1zM581 284h1v5h-1zM582 289h1v6h-1zM583 295h1v5h-1zM584 298h1v5h-1zM585 289h1v9h-1zM586 280h1v9h-1zM587 271h1v9h-1zM588 262h1v9h-1zM589 248h1v14h-1zM590 230h1v18h-1zM591 212h1v18h-1zM592 194h1v18h-1zM593 184h1v10h-1zM594 189h1v9h-1zM595 198h1v8h-1zM596 206h1v9h-1zM597 199h1v21h-1zM598 159h1v40h-1zM599 119h1v40h-1zM600 79h1v40h-1zM601 59h1v20h-1zM602 66h1v12h-1zM603 78h1v13h-1zM604 91h1v13h-1zM605 104h1v12h-1zM606 115h1v8h-1zM607 99h1v16h-1zM608 83h1v16h-1zM609 67h1v16h-1zM610 59h1v16h-1zM611 75h1v32h-1zM612 107h1v32h-1zM613 139h1v32h-1zM614 171h1v17h-1zM615 188h1v4h-1zM616 192h1v4h-1zM617 196h1v4h-1zM618 200h1v4h-1zM619 204h1v4h-1zM620 208h1v5h-1zM621 213h1v6h-1zM622 219h1v5h-1zM623 224h1v9h-1zM624 233h1v14h-1zM625 247h1v14h-1zM626 261h1v14h-1zM627 268h1v14h-1zM628 242h1v26h-1zM629 216h1v26h-1zM630 190h1v26h-1zM631 171h1v19h-1zM632 159h1v12h-1zM633 146h1v13h-1zM634 134h1v12h-1zM635 122h1v12h-1zM636 115h1v7h-1zM637 121h1v10h-1zM638 131h1v10h-1zM639 141h1v10h-1zM640 151h1v7h-1zM641 158h1v4h-1zM642 162h1v3h-1zM643 165h1v4h-1zM644 164h1v7h-1zM645 150h1v14h-1zM646 136h1v14h-1zM647 122h1v14h-1zM648 108h1v14h-1zM649 101h1v7h-1zM650 108h1v12h-1zM651 120h1v12h-1zM652 132h1v12h-1zM653 144h1v12h-1zM654 156h1v12h-1zM655 168h1v12h-1zM656 180h1v12h-1zM657 192h1v7h-1zM658 196h1v2h-1zM659 194h1v2h-1zM660 192h1v2h-1zM661 189h1v3h-1zM662 183h1v6h-1zM663 177h1v6h-1zM664 172h1v5h-1zM665 166h1v6h-1zM666 159h1v7h-1zM667 151h1v8h-1zM668 142h1v9h-1zM669 134h1v8h-1zM670 129h1v7h-1zM671 136h1v12h-1zM672 148h1v12h-1zM673 160h1v12h-1zM674 172h1v6h-1zM675 173h1v3h-1zM676 170h1v3h-1zM677 168h1v2h-1zM678 165h1v3h-1zM679 163h1v5h-1zM680 168h1v9h-1zM681 177h1v8h-1zM682 185h1v9h-1zM683 194h1v5h-1zM684 191h1v5h-1zM685 185h1v6h-1zM686 180h1v5h-1zM687 177h1v3h-1zM688 177h1v1h-1zM689 177h1v1h-1zM690 177h1v1h-1zM691 171h1v7h-1zM692 159h1v12h-1zM693 146h1v13h-1zM694 134h1v12h-1zM695 122h1v12h-1zM696 115h1v8h-1zM697 123h1v16h-1zM698 139h1v15h-1zM699 154h1v16h-1zM700 170h1v8h-1zM701 167h1v7h-1zM702 160h1v7h-1zM703 153h1v7h-1zM704 147h1v6h-1zM705 143h1v4h-1zM706 139h1v4h-1zM707 135h1v4h-1zM708 131h1v4h-1zM709 129h1v11h-1zM710 140h1v21h-1zM711 161h1v20h-1zM712 181h1v21h-1zM713 202h1v14h-1zM714 216h1v7h-1zM715 223h1v7h-1zM716 230h1v7h-1zM717 237h1v13h-1zM718 250h1v19h-1zM719 269h1v19h-1zM720 288h1v19h-1zM721 307h1v14h-1zM722 321h1v10h-1zM723 331h1v10h-1zM724 341h1v10h-1zM725 351h1v10h-1zM726 361h1v5h-1zM727 360h1v4h-1zM728 357h1v3h-1zM729 353h1v4h-1zM730 351h1v8h-1zM731 359h1v16h-1zM732 375h1v15h-1zM733 390h1v16h-1zM734 406h1v8h-1zM735 399h1v10h-1zM736 389h1v10h-1zM737 380h1v9h-1zM738 370h1v10h-1zM739 365h1v5h-1zM740 367h1v3h-1zM741 370h1v4h-1zM742 374h1v3h-1zM743 377h1v2h-1zM744 374h1v3h-1zM745 370h1v4h-1zM746 367h1v3h-1zM747 363h1v4h-1zM748 358h1v5h-1zM749 352h1v6h-1zM750 347h1v5h-1zM751 342h1v5h-1zM752 336h1v6h-1zM753 330h1v6h-1zM754 325h1v5h-1zM755 319h1v6h-1zM756 317h1v2h-1z" fill="#c00000" shape-rendering="crispEdges"/>
<line x1="143.5" y1="40" x2="143.5" y2="460" stroke="#000" stroke-width="1" stroke-dasharray="3,3" shape-rendering="crispEdges"/>
<line x1="246.5" y1="40" x2="246.5" y2="460" stroke="#000" stroke-width="1" stroke-dasharray="3,3" shape-rendering="crispEdges"/>
<line x1="349.5" y1="40" x2="349.5" y2="460" stroke="#000" stroke-width="1" stroke-dasharray="3,3" shape-rendering="crispEdges"/>
<line x1="451.5" y1="40" x2="451.5" y2="460" stroke="#000" stroke-width="1" stroke-dasharray="3,3" shape-rendering="crispEdges"/>
<line x1="554.5" y1="40" x2="554.5" y2="460" stroke="#000" stroke-width="1" stroke-dasharray="3,3" shape-rendering="crispEdges"/>
<line x1="657.5" y1="40" x2="657.5" y2="460" stroke="#000" stroke-width="1" stroke-dasharray="3,3" shape-rendering="crispEdges"/>
<line x1="40" y1="66.5" x2="760" y2="66.5" stroke="#000" stroke-width="1" stroke-dasharray="3,3" shape-rendering="crispEdges"/>
<line x1="40" y1="101.5" x2="760" y2="101.5" stroke="#000" stroke-width="1" stroke-dasharray="3,3" shape-rendering="crispEdges"/>
<line x1="40" y1="135.5" x2="760" y2="135.5" stroke="#000" stroke-width="1" stroke-dasharray="3,3" shape-rendering="crispEdges"/>
<line x1="40" y1="170.5" x2="760" y2="170.5" stroke="#000" stroke-width="1" stroke-dasharray="3,3" shape-rendering="crispEdges"/>
<line x1="40" y1="205.5" x2="760" y2="205.5" stroke="#000" stroke-width="1" stroke-dasharray="3,3" shape-rendering="crispEdges"/>
<line x1="40" y1="240.5" x2="760" y2="240.5" stroke="#000" stroke-width="1" stroke-dasharray="3,3" shape-rendering="crispEdges"/>
<line x1="40" y1="274.5" x2="760" y2="274.5" stroke="#000" stroke-width="1" stroke-dasharray="3,3" shape-rendering="crispEdges"/>
<line x1="40" y1="309.5" x2="760" y2="309.5" stroke="#000" stroke-width="1" stroke-dasharray="3,3" shape-rendering="crispEdges"/>
<line x1="40" y1="344.5" x2="760" y2="344.5" stroke="#000" stroke-width="1" stroke-dasharray="3,3" shape-rendering="crispEdges"/>
<line x1="40" y1="378.5" x2="760" y2="378.5" stroke="#000" stroke-width="1" stroke-dasharray="3,3" shape-rendering="crispEdges"/>
<line x1="40" y1="413.5" x2="760" y2="413.5" stroke="#000" stroke-width="1" stroke-dasharray="3,3" shape-rendering="crispEdges"/>
<line x1="40" y1="448.5" x2="760" y2="448.5" stroke="#000" stroke-width="1" stroke-dasharray="3,3" shape-rendering="crispEdges"/>
<rect x="40" y="461" width="1" height="2" fill="#000"/>
<rect x="143" y="461" width="1" height="2" fill="#000"/>
<rect x="246" y="461" width="1" height="2" fill="#000"/>
<rect x="349" y="461" width="1" height="2" fill="#000"/>
<rect x="451" y="461" width="1" height="2" fill="#000"/>
<rect x="554" y="461" width="1" height="2" fill="#000"/>
<rect x="657" y="461" width="1" height="2" fill="#000"/>
<rect x="40.5" y="40.5" width="720" height="420" fill="none" stroke="#000" stroke-width="1" shape-rendering="crispEdges"/>
</svg>
<div id="txt" style="position:absolute;left:0;top:0;width:800px;height:500px;will-change:transform;">
<div id="title" class="t c">Windgeschwindigkeit [m/s] skaliert</div>
<div class="t c" style="left:146.5px;top:26px;color:#00c000">Minima</div>
<div class="t c" style="left:402px;top:26px;color:#0000ff;letter-spacing:0.15px">Mittelwerte</div>
<div class="t c" style="left:653px;top:26px;color:#c00000">Maxima</div>
<div class="t r" style="left:0;width:37px;top:40px">m/s</div>
<div class="t r" style="left:0;width:36px;top:62px">5,5</div>
<div class="t r" style="left:0;width:36px;top:97px">5,0</div>
<div class="t r" style="left:0;width:36px;top:131px">4,5</div>
<div class="t r" style="left:0;width:36px;top:166px">4,0</div>
<div class="t r" style="left:0;width:36px;top:201px">3,5</div>
<div class="t r" style="left:0;width:36px;top:236px">3,0</div>
<div class="t r" style="left:0;width:36px;top:270px">2,5</div>
<div class="t r" style="left:0;width:36px;top:305px">2,0</div>
<div class="t r" style="left:0;width:36px;top:340px">1,5</div>
<div class="t r" style="left:0;width:36px;top:374px">1,0</div>
<div class="t r" style="left:0;width:36px;top:409px">0,5</div>
<div class="t r" style="left:0;width:36px;top:444px">0,0</div>
<div class="t c" style="left:40px;top:469px">Montag</div>
<div class="t c" style="left:41px;top:484px">13.01.14</div>
<div class="t c" style="left:143px;top:469px">Dienstag</div>
<div class="t c" style="left:144px;top:484px">14.01.14</div>
<div class="t c" style="left:246px;top:469px">Mittwoch</div>
<div class="t c" style="left:247px;top:484px">15.01.14</div>
<div class="t c" style="left:349px;top:469px">Donnerstag</div>
<div class="t c" style="left:350px;top:484px">16.01.14</div>
<div class="t c" style="left:451px;top:469px">Freitag</div>
<div class="t c" style="left:452px;top:484px">17.01.14</div>
<div class="t c" style="left:554px;top:469px">Samstag</div>
<div class="t c" style="left:555px;top:484px">18.01.14</div>
<div class="t c" style="left:657px;top:469px">Sonntag</div>
<div class="t c" style="left:658px;top:484px">19.01.14</div>
</div>
</div></body></html>
